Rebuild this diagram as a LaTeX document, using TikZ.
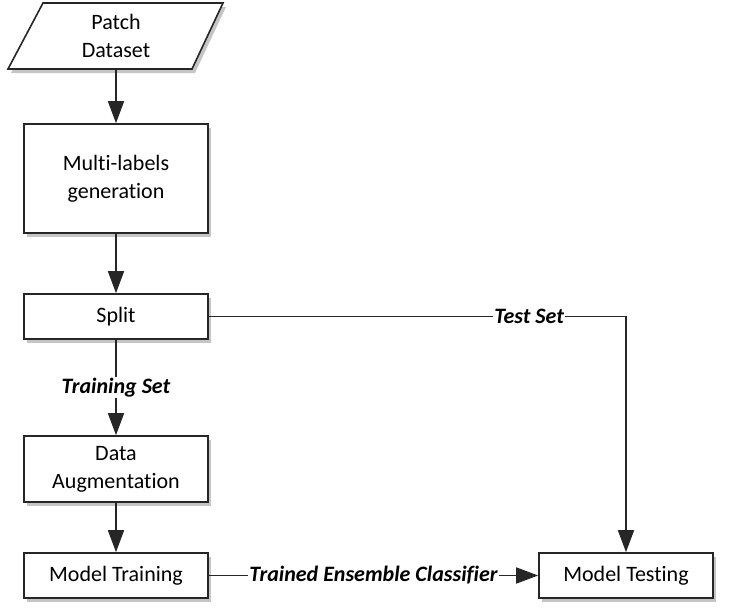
\documentclass[tikz,border=0pt]{standalone}
\usepackage{fontspec}
\setmainfont[Ligatures=NoCommon]{Carlito}
\usetikzlibrary{arrows.meta,shadows,calc}
\begin{document}
\begin{tikzpicture}[x=1pt,y=-1pt,
  font=\fontsize{22}{28}\selectfont,
  boxshadow/.style={drop shadow={shadow xshift=3pt,shadow yshift=-4pt,fill=black!45,opacity=0.5}},
  procbox/.style={draw=black!85,line width=1.6pt,fill=white,rectangle,align=center,inner sep=0pt,boxshadow},
  conn/.style={draw=black!85,line width=1.6pt},
  arr/.style={conn,-{Triangle[length=22pt,width=16pt]}},
  lbl/.style={fill=white,inner sep=1pt,font=\fontsize{22}{28}\selectfont\bfseries\itshape}]
\useasboundingbox (0,0) rectangle (750,616);
% parallelogram
\filldraw[draw=black!85,line width=1.6pt,fill=white,boxshadow] (43,3) -- (223,3) -- (192,69) -- (8,69) -- cycle;
\node[align=center,minimum width=150pt,minimum height=66pt,inner sep=0pt] (pd) at (116,36) {Patch\\Dataset};
\node[procbox,minimum width=184pt,minimum height=109pt] (ml) at (116,178.5) {Multi-labels\\generation};
\node[procbox,minimum width=184pt,minimum height=45pt] (sp) at (116,316.5) {Split};
\node[procbox,minimum width=184pt,minimum height=66pt] (da) at (116,469) {Data\\Augmentation};
\node[procbox,minimum width=184pt,minimum height=45pt] (mt) at (116,575.5) {Model Training};
\node[procbox,minimum width=174pt,minimum height=45pt] (mte) at (626,575.5) {Model Testing};
% connectors
\draw[arr] (pd.south) -- (ml.north);
\draw[arr] (ml.south) -- (sp.north);
\draw[arr] (sp.south) -- node[lbl] {Training Set} (da.north);
\draw[arr] (da.south) -- (mt.north);
\draw[arr] (sp.east) -| node[lbl,pos=0.384] {Test Set} (mte.north);
\draw[arr] (mt.east) -- node[lbl] {Trained Ensemble Classifier} (mte.west);
\end{tikzpicture}
\end{document}
